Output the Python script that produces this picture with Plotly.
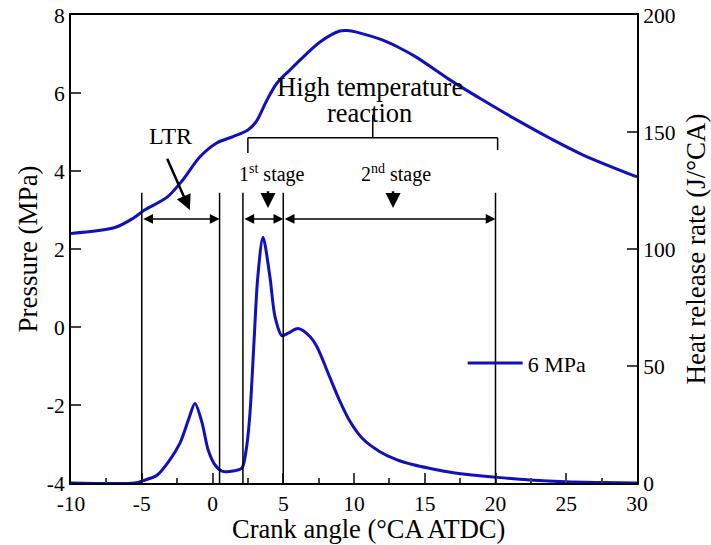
import plotly.graph_objects as go

# ---- data ----
p_angle = [-10, -6.9, -5.6, -4.8, -3.2, -2.1, -0.9, 0.3, 1.45, 2.5, 3.1, 3.85, 4.55, 5.5, 6.2,
           7.6, 9.0, 9.5, 10.5, 12.0, 13.2, 14.4, 16.8, 19.1, 21.5, 23.85, 26.2, 30]
pressure = [2.40, 2.55, 2.79, 3.0, 3.33, 3.77, 4.36, 4.72, 4.88, 5.05, 5.27, 5.82, 6.25, 6.6, 6.85,
            7.31, 7.59, 7.60, 7.53, 7.36, 7.16, 6.92, 6.33, 5.82, 5.31, 4.84, 4.41, 3.85]

h_angle = [-10, -5.5, -4.9, -3.9, -3.0, -2.3, -1.7, -1.24, -0.75, -0.3, 0.18, 0.67, 1.45, 2.08,
           2.4, 2.65, 2.93, 3.2, 3.57, 4.06, 4.42, 4.9, 5.35, 6.04, 6.9, 7.4, 8.3, 9.0, 9.7,
           10.6, 11.8, 13.0, 14.2, 15.4, 16.5, 17.7, 20.1, 22.4, 25, 27.5, 30]
hrr = [0, 0, 1, 3.4, 10, 17, 27, 34, 26, 14, 7.7, 5.1, 5.1, 6.4,
       15, 30, 60, 88, 105, 88, 71, 63, 64, 66, 62.5, 58, 45, 35, 26.5,
       19, 13.5, 10.0, 7.8, 6.2, 4.9, 3.8, 2.4, 1.3, 0.5, 0.2, 0]

x_ticks = [-10, -5, 0, 5, 10, 15, 20, 25, 30]
x_tick_labels = ["-10", "-5", "0", "5", "10", "15", "20", "25", "30"]
y_ticks = [-4, -2, 0, 2, 4, 6, 8]
y_tick_labels = ["-4", "-2", "0", "2", "4", "6", "8"]
y2_ticks = [0, 50, 100, 150, 200]
y2_tick_labels = ["0", "50", "100", "150", "200"]

# annotation geometry (data coordinates)
boundary_x = [-5, 0.5, 2.15, 5, 20]
boundary_top = 3.44
arrow_y = 2.77
ranges = [(-5, 0.5), (2.15, 5), (5, 20)]
bracket = dict(x0=2.5, x1=20.15, y=4.85, left_end=4.46, right_end=4.54, mid_top=5.44)

BLUE = "rgb(16,16,190)"
FONT = "Times New Roman, Tinos, Liberation Serif, DejaVu Serif, serif"

fig = go.Figure()
fig.add_trace(go.Scatter(x=p_angle, y=pressure, mode="lines", name="pressure",
                         line=dict(color=BLUE, width=3, shape="spline", smoothing=0.9),
                         showlegend=False))
fig.add_trace(go.Scatter(x=h_angle, y=hrr, mode="lines", name="6 MPa", yaxis="y2",
                         line=dict(color=BLUE, width=3, shape="spline", smoothing=0.8)))

shapes = []
for bx in boundary_x:
    shapes.append(dict(type="line", xref="x", yref="y", x0=bx, x1=bx, y0=-4, y1=boundary_top,
                       line=dict(color="black", width=1.5)))
b = bracket
shapes.append(dict(type="line", xref="x", yref="y", x0=b["x0"], x1=b["x1"], y0=b["y"], y1=b["y"],
                   line=dict(color="black", width=1.5)))
shapes.append(dict(type="line", xref="x", yref="y", x0=b["x0"], x1=b["x0"], y0=b["y"], y1=b["left_end"],
                   line=dict(color="black", width=1.5)))
shapes.append(dict(type="line", xref="x", yref="y", x0=b["x1"], x1=b["x1"], y0=b["y"], y1=b["right_end"],
                   line=dict(color="black", width=1.5)))
mid = (b["x0"] + b["x1"]) / 2
shapes.append(dict(type="line", xref="x", yref="y", x0=mid, x1=mid, y0=b["y"], y1=b["mid_top"],
                   line=dict(color="black", width=1.5)))

ann = []
for a0, a1 in ranges:
    ann.append(dict(x=a1, y=arrow_y, ax=a0, ay=arrow_y, xref="x", yref="y", axref="x", ayref="y",
                    text="", showarrow=True, arrowhead=2, startarrowhead=2, arrowside="end+start",
                    arrowsize=1.3, startarrowsize=1.3, arrowwidth=1.5, arrowcolor="black"))
# LTR pointer
ann.append(dict(x=-1.6, y=3.0, ax=-3.25, ay=4.35, xref="x", yref="y", axref="x", ayref="y",
                text="", showarrow=True, arrowhead=2, arrowsize=1.2, arrowwidth=2.5, arrowcolor="black"))
# stage pointers
for sx in [3.92, 12.76]:
    ann.append(dict(x=sx, y=3.05, ax=sx, ay=3.52, xref="x", yref="y", axref="x", ayref="y",
                    text="", showarrow=True, arrowhead=2, arrowsize=1.2, arrowwidth=2.5, arrowcolor="black"))

ann.append(dict(x=-3.0, y=4.90, xref="x", yref="y", text="LTR", showarrow=False,
                font=dict(family=FONT, size=24, color="black")))
ann.append(dict(x=4.2, y=3.93, xref="x", yref="y", text="1<sup>st</sup> stage", showarrow=False,
                font=dict(family=FONT, size=20, color="black")))
ann.append(dict(x=13.0, y=3.93, xref="x", yref="y", text="2<sup>nd</sup> stage", showarrow=False,
                font=dict(family=FONT, size=20, color="black")))
ann.append(dict(x=11.1, y=6.15, xref="x", yref="y", text="High temperature", showarrow=False,
                font=dict(family=FONT, size=26.5, color="black")))
ann.append(dict(x=11.1, y=5.49, xref="x", yref="y", text="reaction", showarrow=False,
                font=dict(family=FONT, size=26.5, color="black")))
# x-axis title
ann.append(dict(x=0.525, y=-0.099, xref="paper", yref="paper", text="Crank angle (°CA ATDC)",
                showarrow=False, xanchor="center", yanchor="middle",
                font=dict(family=FONT, size=26.5, color="black")))
fig.update_layout(annotations=ann, shapes=shapes)

fig.update_layout(
    width=711, height=545,
    margin=dict(l=71, r=74, t=15, b=62, autoexpand=False),
    paper_bgcolor="white", plot_bgcolor="white",
    font=dict(family=FONT, size=21.5, color="black"),
    showlegend=True,
    legend=dict(x=0.692, y=0.256, xanchor="left", yanchor="middle", bgcolor="rgba(0,0,0,0)",
                itemwidth=55, font=dict(family=FONT, size=22, color="black")),
    xaxis=dict(range=[-10, 30], tickvals=x_ticks, ticktext=x_tick_labels, ticks="inside", ticklen=10,
               tickwidth=2, showline=True, linewidth=2, linecolor="black", mirror=True,
               showgrid=False, zeroline=False, automargin=False,
               minor=dict(ticks="inside", dtick=2.5, ticklen=5, tickwidth=2, showgrid=False)),
    yaxis=dict(range=[-4, 8], tickvals=y_ticks, ticktext=y_tick_labels, ticks="inside", ticklen=10,
               tickwidth=2, showline=True, linewidth=2, linecolor="black", showgrid=False, zeroline=False,
               automargin=False,
               title=dict(text="Pressure (MPa)", font=dict(size=27), standoff=1)),
    yaxis2=dict(range=[0, 200], tickvals=y2_ticks, ticktext=y2_tick_labels, overlaying="y", side="right",
                ticks="inside", ticklen=10, tickwidth=2, showline=True, linewidth=2, linecolor="black",
                showgrid=False, zeroline=False, automargin=False,
                title=dict(text="Heat release rate (J/°CA)", font=dict(size=27), standoff=12)),
)

fig.write_html("out.html")
